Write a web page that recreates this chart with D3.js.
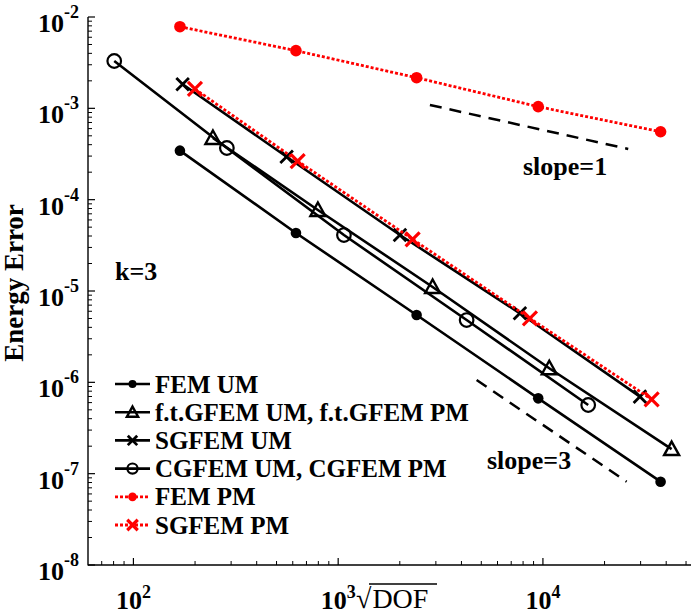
<!DOCTYPE html>
<html><head><meta charset="utf-8">
<script src="https://cdn.jsdelivr.net/npm/d3@7"></script>
<style>
body{margin:0;background:#fff;overflow:hidden;}
svg{display:block;}
text{font-family:"Liberation Serif","Times New Roman",serif;fill:#000;}
</style>
</head><body>
<svg id="c" width="691" height="614"></svg>
<script>
// ---- data ----
const femX      = [168.7, 622, 2416, 9485, 37560];
const femUM     = [3.44e-4, 4.32e-5, 5.46e-6, 6.68e-7, 8.17e-8];
const femPM     = [7.83e-3, 4.28e-3, 2.164e-3, 1.043e-3, 5.54e-4];
const ftX       = [244.5, 796, 2893, 10740, 42520];
const ftGFEM    = [4.73e-4, 7.71e-5, 1.106e-5, 1.425e-6, 1.86e-7];
const sgUMX     = [173.9, 560, 2003, 7720, 29770];
const sgUM      = [1.833e-3, 2.954e-4, 4.10e-5, 5.70e-6, 6.97e-7];
const sgPMX     = [199.7, 634, 2310, 8640, 33960];
const sgPM      = [1.63e-3, 2.65e-4, 3.68e-5, 5.02e-6, 6.52e-7];
const cgX       = [80.6, 286, 1067, 4240, 16640];
const cgFEM     = [3.30e-3, 3.68e-4, 4.10e-5, 4.81e-6, 5.65e-7];
const slope1X   = [2806, 26100];
const slope1Y   = [1.088e-3, 3.59e-4];
const slope3X   = [4745, 25630];
const slope3Y   = [1.06e-6, 8.17e-8];
const legendLabels = ["FEM UM", "f.t.GFEM UM, f.t.GFEM PM", "SGFEM UM", "CGFEM UM, CGFEM PM", "FEM PM", "SGFEM PM"];
const xTickVals = [1e2, 1e3, 1e4];
const xTickExp  = ["2", "3", "4"];
const yTickVals = [1e-2, 1e-3, 1e-4, 1e-5, 1e-6, 1e-7, 1e-8];
const yTickExp  = ["-2", "-3", "-4", "-5", "-6", "-7", "-8"];
const xDomain = [60, 6e4];
const yDomain = [1e-8, 1e-2];

// ---- layout ----
const svg = d3.select("#c");
const L = 88, T = 17, B = 565;
const x = d3.scaleLog().domain(xDomain).range([L, L + 3 * 204.75]);
const y = d3.scaleLog().domain(yDomain).range([B, T]);
const RED = "#ff0000";

const series = [
  {xs: femX,  ys: femUM,  color: "#000", dash: null, marker: "dot"},
  {xs: ftX,   ys: ftGFEM, color: "#000", dash: null, marker: "tri"},
  {xs: sgUMX, ys: sgUM,   color: "#000", dash: null, marker: "x"},
  {xs: cgX,   ys: cgFEM,  color: "#000", dash: null, marker: "ocircle"},
  {xs: femX,  ys: femPM,  color: RED,    dash: "3,2", marker: "dot"},
  {xs: sgPMX, ys: sgPM,   color: RED,    dash: "3,2", marker: "x"}
];

function marker(g, type, cx, cy, color, k) {
  k = k || 1;
  if (type === "dot") {
    g.append("circle").attr("cx", cx).attr("cy", cy).attr("r", (color === RED ? 5.8 : 5.3) * k).attr("fill", color);
  } else if (type === "ocircle") {
    g.append("circle").attr("cx", cx).attr("cy", cy).attr("r", 6.8 * k).attr("fill", "none").attr("stroke", color).attr("stroke-width", 2.2);
  } else if (type === "tri") {
    g.append("path").attr("d", `M${cx},${cy-7.5*k}L${cx+7.5*k},${cy+6*k}L${cx-7.5*k},${cy+6*k}Z`)
      .attr("fill", "none").attr("stroke", color).attr("stroke-width", 2.4).attr("stroke-linejoin", "miter");
  } else if (type === "x") {
    const s = (color === RED ? 7 : 6.3) * k;
    g.append("path").attr("d", `M${cx-s},${cy-s}L${cx+s},${cy+s}M${cx-s},${cy+s}L${cx+s},${cy-s}`)
      .attr("stroke", color).attr("stroke-width", color === RED ? 3.2 : 2.8).attr("fill", "none");
  }
}

// ---- axes ----
const ax = svg.append("g");
ax.append("line").attr("x1", L).attr("x2", L).attr("y1", T).attr("y2", B + 0.6).attr("stroke", "#000").attr("stroke-width", 1.4);
ax.append("line").attr("x1", L).attr("x2", 700).attr("y1", B).attr("y2", B).attr("stroke", "#000").attr("stroke-width", 1.4);

const yMinor = [];
for (let e = -8; e < -2; e++) for (let m = 2; m <= 9; m++) yMinor.push(m * Math.pow(10, e));
yMinor.forEach(v => ax.append("line").attr("x1", L).attr("x2", L + 4).attr("y1", y(v)).attr("y2", y(v)).attr("stroke", "#000").attr("stroke-width", 1));
yTickVals.forEach(v => ax.append("line").attr("x1", L).attr("x2", L + 7).attr("y1", y(v)).attr("y2", y(v)).attr("stroke", "#000").attr("stroke-width", 1.2));
const xMinor = [];
for (let e = 1; e <= 4; e++) for (let m = 2; m <= 9; m++) { const v = m * Math.pow(10, e); if (v > xDomain[0] && v < xDomain[1]) xMinor.push(v); }
xMinor.forEach(v => ax.append("line").attr("x1", x(v)).attr("x2", x(v)).attr("y1", B).attr("y2", B - 4).attr("stroke", "#000").attr("stroke-width", 1));
xTickVals.forEach(v => ax.append("line").attr("x1", x(v)).attr("x2", x(v)).attr("y1", B).attr("y2", B - 7).attr("stroke", "#000").attr("stroke-width", 1.2));

yTickVals.forEach((v, i) => {
  const t = ax.append("text").attr("x", 79).attr("y", y(v) + 15).attr("text-anchor", "end")
    .attr("font-size", 26).attr("font-weight", "bold");
  t.append("tspan").text("10");
  t.append("tspan").attr("dy", -14).attr("font-size", 18).text(yTickExp[i]);
});
xTickVals.forEach((v, i) => {
  const t = ax.append("text").attr("x", x(v)).attr("y", 609).attr("text-anchor", "middle")
    .attr("font-size", 26).attr("font-weight", "bold");
  t.append("tspan").text("10");
  t.append("tspan").attr("dy", -11).attr("font-size", 18).text(xTickExp[i]);
});

svg.append("text").attr("transform", "translate(23,283) rotate(-90)").attr("text-anchor", "middle")
  .attr("font-size", 27).attr("font-weight", "bold").text("Energy Error");
const xl = svg.append("text").attr("x", 356).attr("y", 608).attr("font-size", 28);
xl.append("tspan").text("√");
xl.append("tspan").attr("dx", 1).text("DOF");
svg.append("line").attr("x1", 369).attr("x2", 437).attr("y1", 584).attr("y2", 584).attr("stroke", "#000").attr("stroke-width", 1.3);

// ---- slope guide lines ----
[[slope1X, slope1Y], [slope3X, slope3Y]].forEach(([xs, ys]) => {
  svg.append("line").attr("x1", x(xs[0])).attr("y1", y(ys[0])).attr("x2", x(xs[1])).attr("y2", y(ys[1]))
    .attr("stroke", "#000").attr("stroke-width", 2.5).attr("stroke-dasharray", "12,8");
});
svg.append("text").attr("x", 523).attr("y", 175).attr("font-size", 26).attr("font-weight", "bold").text("slope=1");
svg.append("text").attr("x", 487).attr("y", 469).attr("font-size", 26).attr("font-weight", "bold").text("slope=3");
svg.append("text").attr("x", 115).attr("y", 280).attr("font-size", 26).attr("font-weight", "bold").text("k=3");

// ---- series ----
const line = d3.line().x(d => x(d[0])).y(d => y(d[1]));
const plot = svg.append("g");
series.forEach(s => {
  const pts = s.xs.map((v, i) => [v, s.ys[i]]);
  const p = plot.append("path").datum(pts).attr("d", line).attr("fill", "none")
    .attr("stroke", s.color).attr("stroke-width", s.dash ? 2.8 : 2.6);
  if (s.dash) p.attr("stroke-dasharray", s.dash);
  pts.forEach(d => marker(plot, s.marker, x(d[0]), y(d[1]), s.color));
});

// ---- legend ----
const lg = svg.append("g");
series.forEach((s, i) => {
  const cy = 384 + i * 28.2;
  const l = lg.append("line").attr("x1", 115).attr("x2", 150).attr("y1", cy).attr("y2", cy)
    .attr("stroke", s.color).attr("stroke-width", s.dash ? 2.8 : 2.6);
  if (s.dash) l.attr("stroke-dasharray", s.dash);
  marker(lg, s.marker, 132.5, cy, s.color, 0.75);
  lg.append("text").attr("x", 155).attr("y", cy + 8.5).attr("font-size", 25).attr("font-weight", "bold").text(legendLabels[i]);
});
</script>
</body></html>
